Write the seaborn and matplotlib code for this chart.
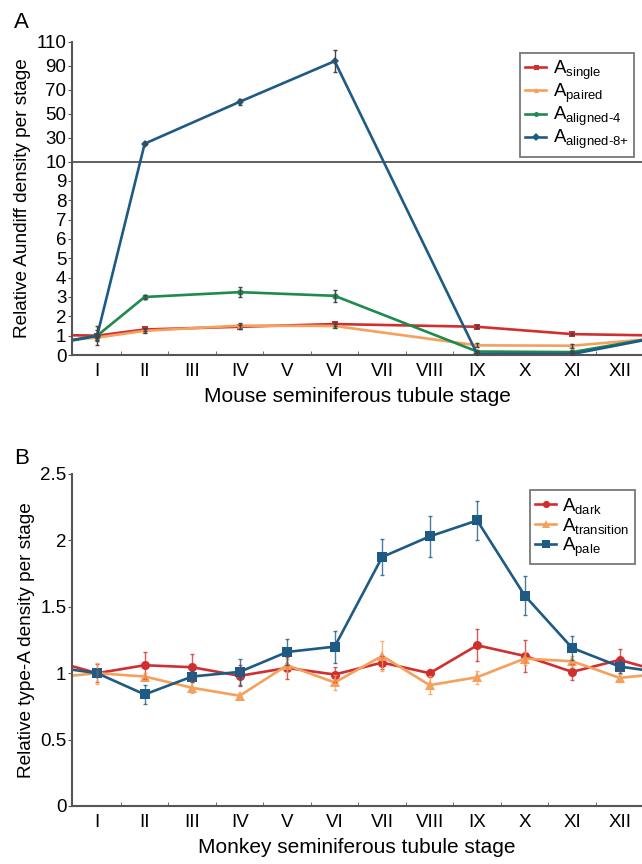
import numpy as np
import pandas as pd
import seaborn as sns
import matplotlib
matplotlib.use('Agg')
from matplotlib import pyplot as plt
from matplotlib.ticker import FixedLocator, NullFormatter

stage_labels = ['I', 'II', 'III', 'IV', 'V', 'VI', 'VII', 'VIII', 'IX', 'X', 'XI', 'XII']

# mouse (panel A) - measured stages only
mouse_stages = [1, 2, 4, 6, 9, 11]
a_single = [1.0, 1.32, 1.46, 1.6, 1.46, 1.08]
a_single_err = [0.1, 0.1, 0.1, 0.1, 0.08, 0.06]
a_paired = [0.9, 1.25, 1.52, 1.5, 0.5, 0.48]
a_paired_err = [0.1, 0.1, 0.15, 0.1, 0.1, 0.1]
a_aligned4 = [1.0, 3.0, 3.25, 3.06, 0.18, 0.15]
a_aligned4_err = [0.3, 0.1, 0.25, 0.3, 0.05, 0.05]
a_aligned8 = [1.0, 25, 60, 94, 0.05, 0.05]
a_aligned8_err = [0.5, 1.5, 2.5, 9, 0.03, 0.03]

# monkey (panel B) - all twelve stages
monkey_stages = list(range(1, 13))
a_dark = [1.0, 1.06, 1.045, 0.98, 1.04, 0.99, 1.08, 1.0, 1.21, 1.13, 1.01, 1.1]
a_dark_err = [0.07, 0.1, 0.1, 0.08, 0.08, 0.06, 0.05, 0.03, 0.12, 0.12, 0.06, 0.08]
a_transition = [1.0, 0.975, 0.89, 0.83, 1.06, 0.93, 1.13, 0.91, 0.97, 1.11, 1.09, 0.965]
a_transition_err = [0.08, 0.03, 0.04, 0.02, 0.05, 0.06, 0.11, 0.07, 0.05, 0.05, 0.04, 0.03]
a_pale = [1.0, 0.84, 0.975, 1.01, 1.16, 1.2, 1.875, 2.03, 2.15, 1.585, 1.19, 1.05]
a_pale_err = [0.03, 0.07, 0.04, 0.1, 0.1, 0.12, 0.135, 0.155, 0.145, 0.145, 0.09, 0.05]

RED = '#d12f2f'
ORANGE = '#f5a05c'
GREEN = '#1e8a4e'
BLUE = '#1d5b85'

plt.rcParams['font.family'] = ['Liberation Sans', 'DejaVu Sans']
plt.rcParams['mathtext.fontset'] = 'custom'
plt.rcParams['mathtext.rm'] = 'Liberation Sans'
plt.rcParams['mathtext.it'] = 'Liberation Sans'


def wrap(stages, vals, period=12):
    # the stage cycle repeats: last stage before I and the next I after XII
    xs = [stages[-1] - period] + list(stages) + [stages[0] + period]
    ys = [vals[-1]] + list(vals) + [vals[0]]
    return xs, ys


def long_frame(stages, series):
    rows = []
    for name, vals in series.items():
        xs, ys = wrap(stages, vals)
        for x, y in zip(xs, ys):
            rows.append({'stage': x, 'value': y, 'series': name})
    return pd.DataFrame(rows)


def style_axes(ax, xlabel, ylabel):
    ax.set_xlim(0.47, 12.47)
    ax.set_xticks(range(1, 13))
    ax.set_xticklabels(stage_labels, fontsize=13.5)
    ax.xaxis.set_minor_locator(FixedLocator(np.arange(1.5, 12.5, 1)))
    ax.xaxis.set_minor_formatter(NullFormatter())
    ax.tick_params(axis='x', which='major', length=0, pad=6)
    ax.tick_params(axis='x', which='minor', direction='in', length=3, color='#555555')
    ax.tick_params(axis='y', which='major', direction='out', length=3, color='#555555',
                   labelsize=13.5, pad=1)
    for s in ['top', 'right']:
        ax.spines[s].set_visible(False)
    for s in ['left', 'bottom']:
        ax.spines[s].set_color('#555555')
        ax.spines[s].set_linewidth(1.5)
    ax.set_xlabel(xlabel, fontsize=15, labelpad=5)
    ax.set_ylabel(ylabel, fontsize=13.7, labelpad=4)


def make_legend(ax, anchor):
    leg = ax.legend(loc='upper right', bbox_to_anchor=anchor, fontsize=13.5,
                    frameon=True, fancybox=False, handlelength=1.1, handletextpad=0.35,
                    labelspacing=0.0, borderpad=0.3, borderaxespad=0, markerscale=0.8)
    leg.get_frame().set_edgecolor('#555555')
    leg.get_frame().set_linewidth(1.3)
    return leg


fig = plt.figure(figsize=(6.42, 8.64), dpi=100)
axA = fig.add_axes([72 / 642, 1 - 355 / 864, 1 - 72 / 642, (355 - 42) / 864])
axB = fig.add_axes([72 / 642, 1 - 806 / 864, 1 - 72 / 642, (806 - 474) / 864])

# ---- panel A ----
k = 1.2 / 19.4


def fwd(y):
    y = np.asarray(y, dtype=float)
    return np.where(y <= 10, y, 10 + (y - 10) * k)


def inv(y):
    y = np.asarray(y, dtype=float)
    return np.where(y <= 10, y, 10 + (y - 10) / k)


names_a = [r'A$_{\text{single}}$', r'A$_{\text{paired}}$',
           r'A$_{\text{aligned-4}}$', r'A$_{\text{aligned-8+}}$']
vals_a = [a_single, a_paired, a_aligned4, a_aligned8]
errs_a = [a_single_err, a_paired_err, a_aligned4_err, a_aligned8_err]
cols_a = [RED, ORANGE, GREEN, BLUE]
marks_a = ['s', '^', 'o', 'D']

dfA = long_frame(mouse_stages, dict(zip(names_a, vals_a)))
axA.set_yscale('function', functions=(fwd, inv))
sns.lineplot(data=dfA, x='stage', y='value', hue='series', style='series',
             palette=dict(zip(names_a, cols_a)), markers=dict(zip(names_a, marks_a)),
             dashes=False, markersize=4.5, markeredgewidth=0, linewidth=1.9,
             sort=False, ax=axA)
for v, e, c in zip(vals_a, errs_a, cols_a):
    axA.errorbar(mouse_stages, v, yerr=e, fmt='none', ecolor='#444444',
                 elinewidth=1, capsize=1.5, zorder=3)
axA.axhline(10, color='#444444', lw=1.2, zorder=1)
axA.set_ylim(0, 110)
yt = list(range(0, 11)) + [30, 50, 70, 90, 110]
axA.set_yticks(yt)
axA.set_yticklabels([str(t) for t in yt])
style_axes(axA, 'Mouse seminiferous tubule stage', 'Relative Aundiff density per stage')
make_legend(axA, (0.986, 0.965))

# ---- panel B ----
names_b = [r'A$_{\text{dark}}$', r'A$_{\text{transition}}$', r'A$_{\text{pale}}$']
vals_b = [a_dark, a_transition, a_pale]
errs_b = [a_dark_err, a_transition_err, a_pale_err]
cols_b = [RED, ORANGE, BLUE]
marks_b = ['o', '^', 's']

dfB = long_frame(monkey_stages, dict(zip(names_b, vals_b)))
sns.lineplot(data=dfB, x='stage', y='value', hue='series', style='series',
             palette=dict(zip(names_b, cols_b)), markers=dict(zip(names_b, marks_b)),
             dashes=False, markersize=6.5, markeredgewidth=0, linewidth=1.9,
             sort=False, ax=axB)
for v, e, c in zip(vals_b, errs_b, cols_b):
    axB.errorbar(monkey_stages, v, yerr=e, fmt='none', ecolor=c, alpha=0.8,
                 elinewidth=1, capsize=1.5, zorder=3)
axB.set_ylim(0, 2.5)
axB.set_yticks([0, 0.5, 1, 1.5, 2, 2.5])
axB.set_yticklabels(['0', '0.5', '1', '1.5', '2', '2.5'])
style_axes(axB, 'Monkey seminiferous tubule stage', 'Relative type-A density per stage')
make_legend(axB, (0.988, 0.952))

fig.text(14 / 642, 1 - 28 / 864, 'A', fontsize=16)
fig.text(14 / 642, 1 - 464 / 864, 'B', fontsize=16)

fig.savefig('out.png', dpi=100)
